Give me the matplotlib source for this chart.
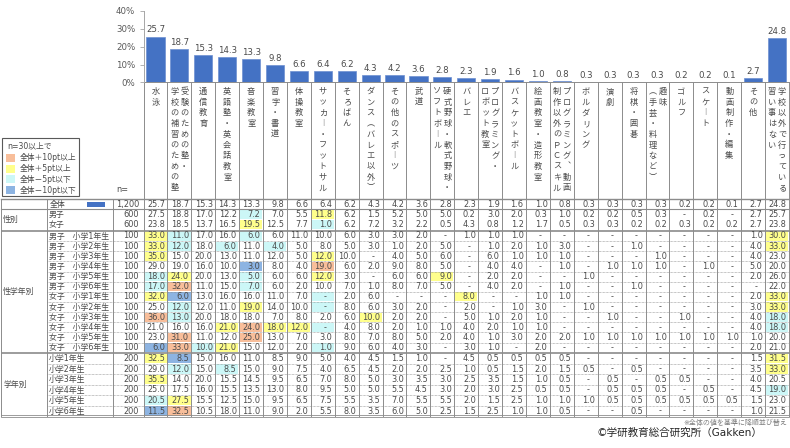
import numpy as np
import matplotlib
matplotlib.use("Agg")
import matplotlib.pyplot as plt
from matplotlib.patches import Rectangle

plt.rcParams['font.family'] = ['DejaVu Sans', 'Noto Sans CJK JP']

# column labels, "\n" = next text column (vertical writing, right to left)
categories = [
    "水泳", "受験のための塾・\n学校の補習のための塾", "通信教育", "英語塾・英会話教室",
    "音楽教室", "習字・書道", "体操教室", "サッカー・フットサル", "そろばん",
    "ダンス（バレエ以外）", "その他のスポーツ", "武道", "硬式野球・軟式野球・\nソフトボール",
    "バレエ", "プログラミング・\nロボット教室", "バスケットボール", "絵画教室・造形教室",
    "プログラミング、動画\n制作以外のＰＣスキル", "ボルダリング", "演劇", "将棋・囲碁",
    "趣味\n（手芸・料理など）", "ゴルフ", "スケート", "動画制作・編集", "その他",
    "学校以外で行っている\n習い事はない",
]
overall = [25.7, 18.7, 15.3, 14.3, 13.3, 9.8, 6.6, 6.4, 6.2, 4.3, 4.2, 3.6, 2.8, 2.3,
           1.9, 1.6, 1.0, 0.8, 0.3, 0.3, 0.3, 0.3, 0.2, 0.2, 0.1, 2.7, 24.8]
overall_n = "1,200"

group_names = ["性別", "性学年別", "学年別"]
group_sizes = [2, 12, 6]

row_labels = ["男子", "女子"] + \
    ["男子　小学%d年生" % g for g in range(1, 7)] + \
    ["女子　小学%d年生" % g for g in range(1, 7)] + \
    ["小学%d年生" % g for g in range(1, 7)]
row_n = [600, 600] + [100] * 12 + [200] * 6

row_values = [
    "27.5 18.8 17.0 12.2 7.2 7.0 5.5 11.8 6.2 1.5 5.2 5.0 5.0 0.2 3.0 2.0 0.3 1.0 0.2 0.2 0.5 0.3 - 0.2 - 2.7 25.7",
    "23.8 18.5 13.7 16.5 19.5 12.5 7.7 1.0 6.2 7.2 3.2 2.2 0.5 4.3 0.8 1.2 1.7 0.5 0.3 0.3 0.2 0.2 0.3 0.2 0.2 2.7 23.8",
    "33.0 11.0 17.0 16.0 6.0 6.0 11.0 10.0 6.0 3.0 3.0 2.0 - 1.0 1.0 1.0 - - - - - - - - - 1.0 30.0",
    "33.0 12.0 18.0 6.0 11.0 4.0 5.0 8.0 5.0 3.0 1.0 2.0 5.0 - 1.0 2.0 1.0 3.0 - - 1.0 - - - - 4.0 33.0",
    "35.0 15.0 20.0 13.0 11.0 12.0 5.0 12.0 10.0 - 4.0 5.0 6.0 - 6.0 1.0 1.0 1.0 - - - 1.0 - - - 4.0 23.0",
    "29.0 19.0 16.0 10.0 3.0 8.0 4.0 19.0 6.0 2.0 9.0 8.0 5.0 - 4.0 4.0 - 1.0 - 1.0 1.0 1.0 - 1.0 - 5.0 20.0",
    "18.0 24.0 20.0 13.0 5.0 6.0 6.0 12.0 3.0 - 6.0 6.0 9.0 - 2.0 2.0 - - 1.0 - - - - - - 2.0 26.0",
    "17.0 32.0 11.0 15.0 7.0 6.0 2.0 10.0 7.0 1.0 8.0 7.0 5.0 - 4.0 2.0 - 1.0 - - 1.0 - - - - - 22.0",
    "32.0 6.0 13.0 16.0 16.0 11.0 7.0 - 2.0 6.0 - - - 8.0 - - 1.0 1.0 - - - - - - - 2.0 33.0",
    "25.0 12.0 12.0 11.0 19.0 14.0 10.0 - 8.0 6.0 3.0 2.0 - 2.0 - 1.0 3.0 - 1.0 - - - - - - 3.0 33.0",
    "36.0 13.0 20.0 18.0 18.0 7.0 8.0 2.0 6.0 10.0 2.0 2.0 - 5.0 1.0 2.0 1.0 - - 1.0 - - 1.0 - - 4.0 18.0",
    "21.0 16.0 16.0 21.0 24.0 18.0 12.0 - 4.0 8.0 2.0 1.0 1.0 4.0 2.0 1.0 1.0 - - - - - - - - 4.0 18.0",
    "23.0 31.0 11.0 12.0 25.0 13.0 7.0 3.0 8.0 7.0 8.0 5.0 2.0 4.0 1.0 3.0 2.0 2.0 1.0 1.0 1.0 1.0 1.0 1.0 1.0 1.0 20.0",
    "6.0 33.0 10.0 21.0 15.0 12.0 2.0 1.0 9.0 6.0 4.0 3.0 - 3.0 1.0 - 2.0 - - - - - - - - 2.0 21.0",
    "32.5 8.5 15.0 16.0 11.0 8.5 9.0 5.0 4.0 4.5 1.5 1.0 - 4.5 0.5 0.5 0.5 0.5 - - - - - - - 1.5 31.5",
    "29.0 12.0 15.0 8.5 15.0 9.0 7.5 4.0 6.5 4.5 2.0 2.0 2.5 1.0 0.5 1.5 2.0 1.5 0.5 - 0.5 - - - - 3.5 33.0",
    "35.5 14.0 20.0 15.5 14.5 9.5 6.5 7.0 8.0 5.0 3.0 3.5 3.0 2.5 3.5 1.5 1.0 0.5 - 0.5 - 0.5 0.5 - - 4.0 20.5",
    "25.0 17.5 16.0 15.5 13.5 13.0 8.0 9.5 5.0 5.0 5.5 4.5 3.0 2.0 3.0 2.5 0.5 0.5 - 0.5 0.5 0.5 - 0.5 - 4.5 19.0",
    "20.5 27.5 15.5 12.5 15.0 9.5 6.5 7.5 5.5 3.5 7.0 5.5 5.5 2.0 1.5 2.5 1.0 1.0 1.0 0.5 0.5 0.5 0.5 0.5 0.5 1.5 23.0",
    "11.5 32.5 10.5 18.0 11.0 9.0 2.0 5.5 8.0 3.5 6.0 5.0 2.5 1.5 2.5 1.0 1.0 0.5 - - 0.5 - - - - 1.0 21.5",
]
values = [[np.nan if t == "-" else float(t) for t in s.split()] for s in row_values]

legend_items = [("全体＋10pt以上", "#F8BE9A"), ("全体＋5pt以上", "#FFFF8C"),
                ("全体－5pt以下", "#CCF7F7"), ("全体－10pt以下", "#8DB4E2")]

TXT = "#4A4A4A"
GRID = "#8C8C8C"
BAR = "#4472C4"
VERT = {"ー": "︱", "（": "︵", "）": "︶", "、": "︑"}
FS = 5.9


def cell_color(v, base):
    d = (0.0 if np.isnan(v) else v) - base
    if d >= 10:
        return legend_items[0][1]
    if d >= 5:
        return legend_items[1][1]
    if d <= -10:
        return legend_items[3][1]
    if d <= -5:
        return legend_items[2][1]
    return None


W, H = 790, 448
fig = plt.figure(figsize=(W / 100, H / 100), dpi=100)
ax = fig.add_axes([0, 0, 1, 1])
ax.set_xlim(0, W)
ax.set_ylim(H, 0)
ax.axis("off")

ncol = len(categories)
x0, x1 = 143.5, 789.0
cw = (x1 - x0) / ncol
col_left = [x0 + i * cw for i in range(ncol)]

# row centres
row_y = [214.5, 224.5] + [236.0 + 10.15 * k for k in range(12)] + [358.5 + 10.5 * k for k in range(6)]
top_y, total_y = 199.0, 204.3
bottom_y = 416.0

# ---- bar chart ----
base_y, top40 = 82.5, 11.0
axb = fig.add_axes([x0 / W, (H - base_y) / H, (x1 - x0) / W, (base_y - top40) / H])
axb.patch.set_alpha(0)
xs = np.arange(ncol)
axb.bar(xs, overall, width=0.76, color=BAR, edgecolor="#6C8FD0", linewidth=0.5)
for x, v in zip(xs, overall):
    axb.text(x, v + 1.2, "%.1f" % v, ha="center", va="bottom", fontsize=6.2, color=TXT)
axb.set_xlim(-0.5, ncol - 0.5)
axb.set_ylim(0, 40)
axb.set_yticks([0, 10, 20, 30, 40])
axb.set_yticklabels(["%d%%" % t for t in [0, 10, 20, 30, 40]], fontsize=6.2, color="#595959")
axb.set_xticks([])
axb.tick_params(axis="y", length=3, width=0.6, color="#A6A6A6", pad=3)
for s in ["top", "right", "bottom"]:
    axb.spines[s].set_visible(False)
axb.spines["left"].set_color("#A6A6A6")
axb.spines["left"].set_linewidth(0.7)

# ---- header labels (vertical) ----
ax.plot([x0, x1], [base_y, base_y], color=GRID, lw=0.7)
for i, lab in enumerate(categories):
    cx = col_left[i] + cw / 2
    lines = lab.split("\n")
    offs = [0] if len(lines) == 1 else [5, -5]
    for off, line in zip(offs, lines):
        for k, ch in enumerate(line):
            ax.text(cx + off, 91.5 + k * 10.7, VERT.get(ch, ch), ha="center", va="center",
                    fontsize=5.9, color=TXT, family=['Noto Sans CJK JP', 'DejaVu Sans'])

ax.text(116, 189, "n=", fontsize=FS, color=TXT, va="center")

# legend box
ax.add_patch(Rectangle((2, 138), 77, 58, fill=False, edgecolor="#595959", lw=0.8))
ax.text(7, 145.5, "n=30以上で", fontsize=5.6, color=TXT, va="center")
for k, (lab, c) in enumerate(legend_items):
    y = 158 + k * 10.7
    ax.add_patch(Rectangle((6, y - 4), 9, 8, facecolor=c, edgecolor="none"))
    ax.text(20, y, lab, fontsize=5.6, color=TXT, va="center")

# ---- cell fills ----
for r, vals in enumerate(values):
    y = row_y[r]
    for i, v in enumerate(vals):
        c = cell_color(v, overall[i])
        if c:
            ax.add_patch(Rectangle((col_left[i] + 0.8, y - 4.6), cw - 1.6, 9.2,
                                   facecolor=c, edgecolor="none"))

# ---- grid lines ----
for xv in col_left + [x1]:
    ax.plot([xv, xv], [base_y, bottom_y], color=GRID, lw=0.7)
for xv in [1, 47, 113]:
    ax.plot([xv, xv], [top_y, bottom_y], color=GRID, lw=0.7)
ax.plot([1, x1], [top_y, top_y], color=GRID, lw=1.0)
ax.plot([1, x1], [209.5, 209.5], color=GRID, lw=0.8)
for yv in [230.5, 352.8, bottom_y]:
    ax.plot([1, x1], [yv - 0.7, yv - 0.7], color=GRID, lw=0.6)
    ax.plot([1, x1], [yv + 0.7, yv + 0.7], color=GRID, lw=0.6)
for a, b in [(2, 14), (14, 20)]:
    for r in range(a, b - 1):
        ym = (row_y[r] + row_y[r + 1]) / 2
        ax.plot([47, x1], [ym, ym], color=GRID, lw=0.5, ls=(0, (1, 1)))


# ---- table text ----
def put_num(i, y, v):
    right = col_left[i] + cw - 2.5
    if np.isnan(v):
        ax.text(right - 7, y, "-", ha="center", va="center", fontsize=FS, color=TXT)
    else:
        ax.text(right, y, "%.1f" % v, ha="right", va="center", fontsize=FS, color=TXT)


ax.text(50, total_y, "全体", fontsize=5.7, color=TXT, va="center")
ax.add_patch(Rectangle((87, total_y - 2.5), 18, 5, facecolor=BAR, edgecolor="none"))
ax.text(139, total_y, overall_n, ha="right", va="center", fontsize=FS, color=TXT)
for i, v in enumerate(overall):
    put_num(i, total_y, v)

for r, (lab, n, vals) in enumerate(zip(row_labels, row_n, values)):
    y = row_y[r]
    ax.text(49, y, lab, fontsize=5.7, color=TXT, va="center")
    ax.text(139, y, str(n), ha="right", va="center", fontsize=FS, color=TXT)
    for i, v in enumerate(vals):
        put_num(i, y, v)

start = 0
for name, size in zip(group_names, group_sizes):
    ym = (row_y[start] + row_y[start + size - 1]) / 2
    ax.text(3, ym, name, fontsize=5.7, color=TXT, va="center")
    start += size

ax.text(787, 422.5, "※全体の値を基準に降順並び替え", ha="right", va="center", fontsize=5, color="#7F7F7F")
ax.text(762, 433, "©学研教育総合研究所（Gakken）", ha="right", va="center", fontsize=7.6, color="#262626")

fig.savefig("out.png", dpi=100)
